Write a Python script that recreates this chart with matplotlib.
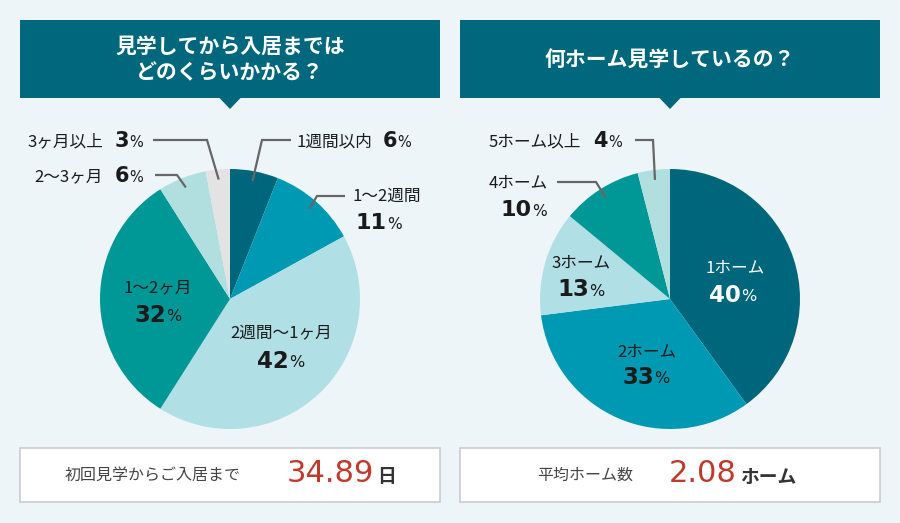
import numpy as np
import matplotlib
matplotlib.use("Agg")
import matplotlib.pyplot as plt
from matplotlib.patches import Rectangle, Polygon

# ---------------- data ----------------
left_title = "見学してから入居までは\nどのくらいかかる？"
left_labels = ["1週間以内", "1～2週間", "2週間～1ヶ月", "1～2ヶ月", "2～3ヶ月", "3ヶ月以上"]
left_values = [6, 11, 42, 32, 6, 3]
left_summary_label = "初回見学からご入居まで"
left_summary_value = "34.89"
left_summary_unit = "日"

right_title = "何ホーム見学しているの？"
right_labels = ["1ホーム", "2ホーム", "3ホーム", "4ホーム", "5ホーム以上"]
right_values = [40, 33, 13, 10, 4]
right_summary_label = "平均ホーム数"
right_summary_value = "2.08"
right_summary_unit = "ホーム"

# ---------------- style ----------------
JP = ["Noto Sans CJK JP", "DejaVu Sans"]
NUM = ["DejaVu Sans", "Noto Sans CJK JP"]
plt.rcParams["font.family"] = JP
BG = "#EDF5F8"
BANNER = "#00677D"
DARK = "#00667C"
MID = "#0099B4"
LIGHT = "#B1DFE6"
TEAL = "#009896"
LIGHT2 = "#B1DFE0"
GREY = "#E3E3E3"
RED = "#C0392B"
LINE = "#666666"
TXT = "#1a1a1a"
LABEL_FS = 12

left_colors = [DARK, MID, LIGHT, TEAL, LIGHT2, GREY]
right_colors = [DARK, MID, LIGHT, TEAL, LIGHT2]

W, H = 900, 523
fig = plt.figure(figsize=(9, 5.23), dpi=100)
fig.patch.set_facecolor(BG)

bg = fig.add_axes([0, 0, 1, 1], zorder=0)
bg.set_xlim(0, W); bg.set_ylim(H, 0); bg.axis("off")

fg = fig.add_axes([0, 0, 1, 1], zorder=5)
fg.set_xlim(0, W); fg.set_ylim(H, 0); fg.axis("off")
fg.patch.set_alpha(0)

R = 130
CY = 299


def banner(x0, x1, cx, title, ys):
    bg.add_patch(Rectangle((x0, 20), x1 - x0, 78, facecolor=BANNER, edgecolor="none"))
    bg.add_patch(Polygon([(cx - 11, 97.5), (cx + 11, 97.5), (cx, 109)],
                         closed=True, facecolor=BANNER, edgecolor="none"))
    for line, y in zip(title.split("\n"), ys):
        fg.text(cx, y, line, ha="center", va="center", color="white",
                fontsize=15, fontweight="bold")


def pie(cx, values, colors):
    ax = fig.add_axes([(cx - R) / W, (H - CY - R) / H, 2 * R / W, 2 * R / H], zorder=2)
    ax.pie(values, colors=colors, startangle=90, counterclock=False, radius=1,
           wedgeprops=dict(linewidth=0))
    ax.set_xlim(-1, 1); ax.set_ylim(-1, 1)
    ax.set_aspect("auto")
    ax.axis("off")
    return ax


def mid_point(cx, values, i, r=120):
    cum = np.cumsum([0] + list(values))
    frac = (cum[i] + cum[i + 1]) / 2 / cum[-1]
    th = 2 * np.pi * frac
    return cx + r * np.sin(th), CY - r * np.cos(th)


def leader(cx, values, i, elbow, end):
    sx, sy = mid_point(cx, values, i)
    fg.plot([sx, elbow[0], end[0]], [sy, elbow[1], end[1]], color=LINE, lw=1.6,
            solid_capstyle="butt", solid_joinstyle="miter")


def pct(x, y, value, size=15, color=TXT):
    fg.text(x, y, str(value), ha="right", va="center", fontsize=size,
            fontweight="bold", color=color, family=NUM)
    fg.text(x + 0.5, y + 1.5, "%", ha="left", va="center", fontsize=size * 0.7,
            color=color, family=NUM)


def summary(x0, x1, label, lx, value, vx, unit):
    bg.add_patch(Rectangle((x0, 448), x1 - x0, 54, facecolor="white",
                           edgecolor="#CCCCCC", lw=1.2))
    fg.text(lx, 475, label, ha="left", va="center", fontsize=11.5, color="#444444")
    fg.text(vx, 474, value, ha="right", va="center", fontsize=22, color=RED,
            family=NUM)
    fg.text(vx + 3, 477, unit, ha="left", va="center", fontsize=13.5,
            fontweight="bold", color="#333333")


# ---------------- left chart ----------------
banner(20, 440, 230, left_title, [46, 73])
pie(230, left_values, left_colors)
LC = 230
leader(LC, left_values, 0, (262, 140), (291, 140))
leader(LC, left_values, 1, (317, 196), (345, 196))
leader(LC, left_values, 5, (207, 140), (153, 140))
leader(LC, left_values, 4, (177, 175), (155, 175))

fg.text(296, 142, left_labels[0], ha="left", va="center", fontsize=LABEL_FS, color=TXT)
pct(397, 141, left_values[0])
fg.text(353, 196, left_labels[1], ha="left", va="center", fontsize=LABEL_FS, color=TXT)
pct(387, 223, left_values[1], size=16)
fg.text(103, 142, left_labels[5], ha="right", va="center", fontsize=LABEL_FS, color=TXT)
pct(129, 141, left_values[5])
fg.text(103, 177, left_labels[4], ha="right", va="center", fontsize=LABEL_FS, color=TXT)
pct(129, 176, left_values[4])
fg.text(158, 288, left_labels[3], ha="center", va="center", fontsize=LABEL_FS, color=TXT)
pct(166, 315, left_values[3], size=16.5)
fg.text(281, 333, left_labels[2], ha="center", va="center", fontsize=LABEL_FS, color=TXT)
pct(289, 361, left_values[2], size=16.5)

summary(20, 440, left_summary_label, 65, left_summary_value, 374, left_summary_unit)

# ---------------- right chart ----------------
banner(460, 880, 670, right_title, [60])
pie(670, right_values, right_colors)
RC = 670
leader(RC, right_values, 4, (653, 140), (635, 140))
leader(RC, right_values, 3, (596, 182), (557, 182))

fg.text(489, 142, right_labels[4], ha="left", va="center", fontsize=LABEL_FS, color=TXT)
pct(608, 141, right_values[4])
fg.text(489, 183, right_labels[3], ha="left", va="center", fontsize=LABEL_FS, color=TXT)
pct(532, 210, right_values[3], size=16)
fg.text(735, 268, right_labels[0], ha="center", va="center", fontsize=LABEL_FS, color="white")
pct(741, 295, right_values[0], size=16.5, color="white")
fg.text(647, 352, right_labels[1], ha="center", va="center", fontsize=LABEL_FS, color=TXT)
pct(654, 377, right_values[1], size=16.5)
fg.text(581, 263, right_labels[2], ha="center", va="center", fontsize=LABEL_FS, color=TXT)
pct(589, 290, right_values[2], size=16.5)

summary(460, 880, right_summary_label, 537, right_summary_value, 737, right_summary_unit)

fig.savefig("out.png", dpi=100, facecolor=BG)
